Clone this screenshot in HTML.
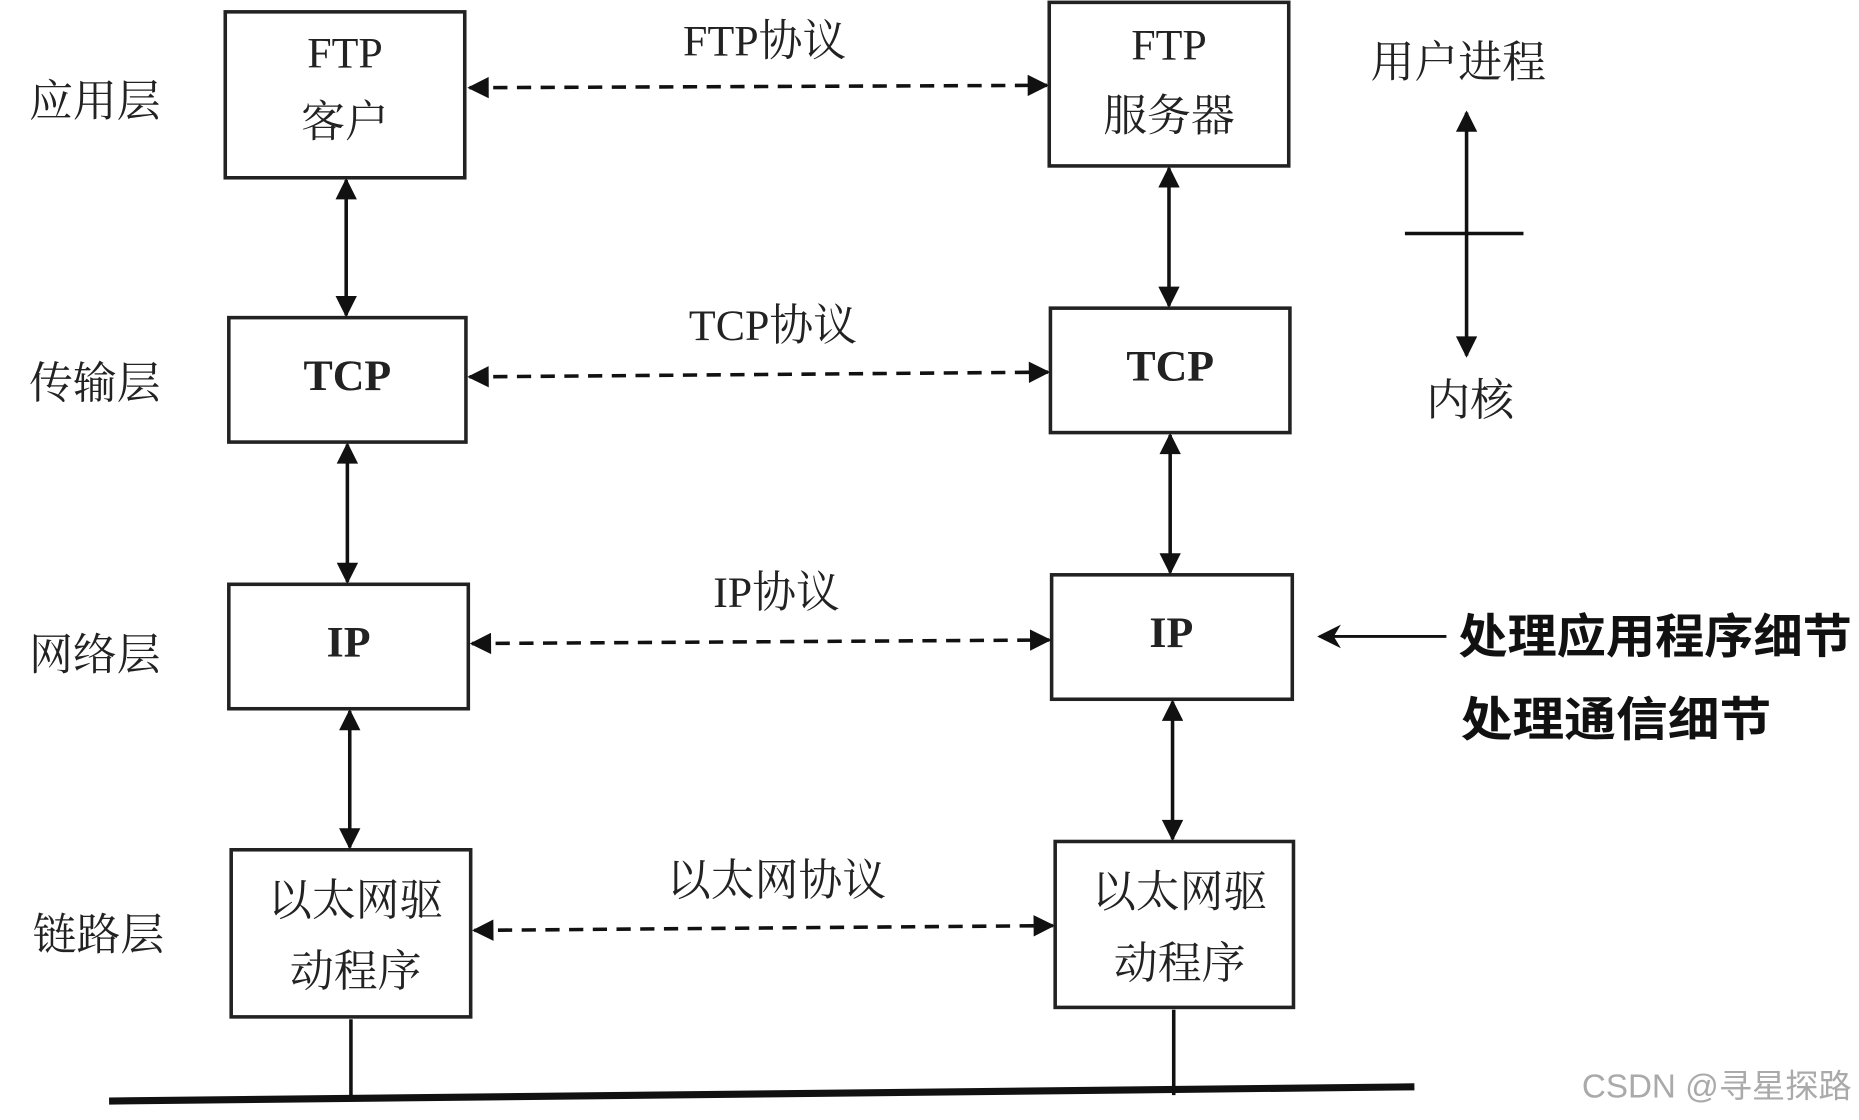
<!DOCTYPE html>
<html><head><meta charset="utf-8"><style>html,body{margin:0;padding:0;background:#fff}svg{display:block}</style></head>
<body>
<svg width="1859" height="1120" viewBox="0 0 1568 945" preserveAspectRatio="none" xmlns="http://www.w3.org/2000/svg">
<defs>
<marker id="a" viewBox="0 0 10 10" refX="9" refY="5" markerWidth="28" markerHeight="20" markerUnits="userSpaceOnUse" orient="auto-start-reverse"><path d="M0,0 L10,5 L0,10 L3,5 z" fill="#111"/></marker>
<marker id="b" viewBox="0 0 10 10" refX="9" refY="5" markerWidth="20" markerHeight="18" markerUnits="userSpaceOnUse" orient="auto-start-reverse"><path d="M0,0 L10,5 L0,10 z" fill="#111"/></marker>
</defs>
<g font-family="Liberation Serif, Noto Serif CJK SC, serif" fill="#222" font-size="37" text-anchor="middle">
<text x="80" y="98">应用层</text>
<text x="80" y="336">传输层</text>
<text x="80" y="565">网络层</text>
<text x="83" y="801">链路层</text>
<text x="645" y="47">FTP协议</text>
<text x="652" y="287">TCP协议</text>
<text x="655" y="512">IP协议</text>
<text x="655" y="755">以太网协议</text>
<text x="1230" y="65">用户进程</text>
<text x="1240" y="350">内核</text>
</g>
<g fill="none" stroke="#222" stroke-width="3">
<rect x="190" y="10" width="202" height="140"/>
<rect x="193" y="268" width="200" height="105"/>
<rect x="193" y="493" width="202" height="105"/>
<rect x="195" y="717" width="202" height="141"/>
<rect x="885" y="2" width="202" height="138"/>
<rect x="886" y="260" width="202" height="105"/>
<rect x="887" y="485" width="203" height="105"/>
<rect x="890" y="710" width="201" height="140"/>
</g>
<g font-family="Liberation Serif, Noto Serif CJK SC, serif" fill="#222" font-size="37" text-anchor="middle">
<text x="291" y="57">FTP</text><text x="291" y="115">客户</text>
<text x="293" y="329" font-weight="bold">TCP</text>
<text x="294" y="554" font-weight="bold">IP</text>
<text x="300" y="772">以太网驱</text><text x="300" y="832">动程序</text>
<text x="986" y="50">FTP</text><text x="986" y="110">服务器</text>
<text x="987" y="321" font-weight="bold">TCP</text>
<text x="988" y="546" font-weight="bold">IP</text>
<text x="995" y="765">以太网驱</text><text x="995" y="825">动程序</text>
</g>
<g stroke="#111" stroke-width="3" stroke-dasharray="12,8" fill="none">
<line x1="396" y1="74" x2="883" y2="72" marker-start="url(#b)" marker-end="url(#b)"/>
<line x1="396" y1="318" x2="884" y2="314" marker-start="url(#b)" marker-end="url(#b)"/>
<line x1="398" y1="543" x2="885" y2="540" marker-start="url(#b)" marker-end="url(#b)"/>
<line x1="400" y1="785" x2="888" y2="781" marker-start="url(#b)" marker-end="url(#b)"/>
</g>
<g stroke="#111" stroke-width="3" fill="none">
<line x1="292" y1="152" x2="292" y2="266" marker-start="url(#b)" marker-end="url(#b)"/>
<line x1="293" y1="375" x2="293" y2="491" marker-start="url(#b)" marker-end="url(#b)"/>
<line x1="295" y1="600" x2="295" y2="715" marker-start="url(#b)" marker-end="url(#b)"/>
<line x1="986" y1="142" x2="986" y2="258" marker-start="url(#b)" marker-end="url(#b)"/>
<line x1="987" y1="367" x2="987" y2="483" marker-start="url(#b)" marker-end="url(#b)"/>
<line x1="989" y1="592" x2="989" y2="708" marker-start="url(#b)" marker-end="url(#b)"/>
<line x1="1237" y1="95" x2="1237" y2="300" marker-start="url(#b)" marker-end="url(#b)"/>
<line x1="1185" y1="197" x2="1285" y2="197"/>
<line x1="296" y1="860" x2="296" y2="926"/>
<line x1="990" y1="852" x2="990" y2="924"/>
<line x1="92" y1="929" x2="1193" y2="917" stroke-width="6"/>
<line x1="1220" y1="537" x2="1113" y2="537" stroke-width="2.5" marker-end="url(#a)"/>
</g>
<g font-family="Liberation Sans, Noto Sans CJK SC, sans-serif" fill="#111" font-size="40" font-weight="bold">
<text x="1230" y="551" textLength="332" lengthAdjust="spacingAndGlyphs">处理应用程序细节</text>
<text x="1232" y="621" textLength="262" lengthAdjust="spacingAndGlyphs">处理通信细节</text>
</g>
<text x="1448" y="926" font-family="Liberation Sans, Noto Sans CJK SC, sans-serif" font-size="28" fill="#aaa" text-anchor="middle">CSDN @寻星探路</text>
</svg>
</body></html>
